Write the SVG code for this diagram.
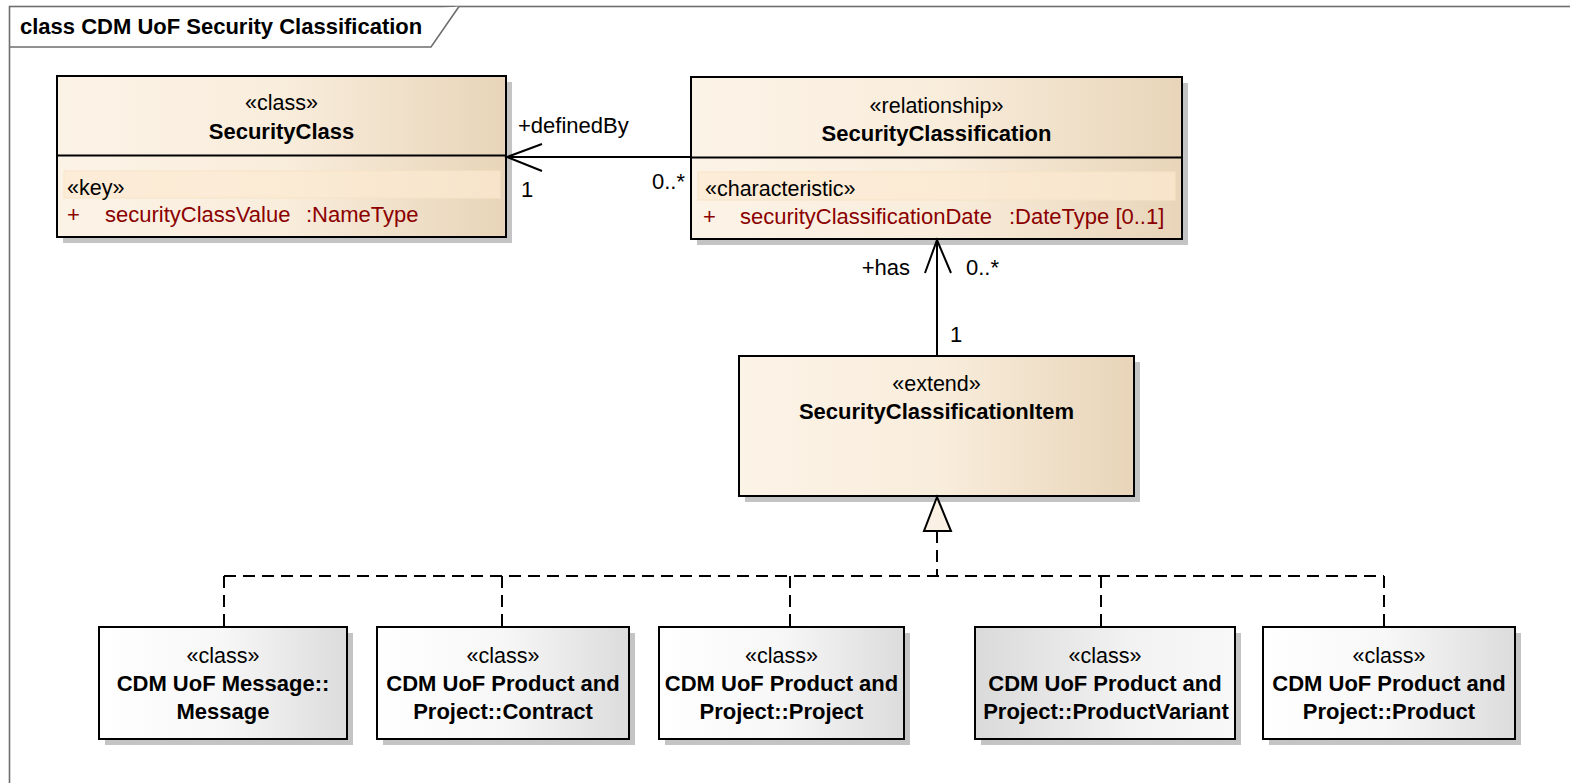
<svg xmlns="http://www.w3.org/2000/svg" width="1570" height="783" viewBox="0 0 1570 783">
<defs>
<linearGradient id="cream" x1="0" y1="0" x2="1" y2="0">
<stop offset="0" stop-color="#fcf3e7"/>
<stop offset="0.5" stop-color="#f9eddc"/>
<stop offset="1" stop-color="#e8d5b9"/>
</linearGradient>
<linearGradient id="grey" x1="0" y1="0" x2="1" y2="0">
<stop offset="0" stop-color="#ffffff"/>
<stop offset="0.5" stop-color="#f7f7f7"/>
<stop offset="1" stop-color="#dcdcdc"/>
</linearGradient>
<linearGradient id="greyrev" x1="0" y1="0" x2="1" y2="0">
<stop offset="0" stop-color="#dadada"/>
<stop offset="0.6" stop-color="#f2f2f2"/>
<stop offset="1" stop-color="#f8f8f8"/>
</linearGradient>
</defs>
<style>
.box{stroke:#000;stroke-width:2}
.cream{fill:url(#cream)}
.grey{fill:url(#grey)}
.greyrev{fill:url(#greyrev)}
.shadow{fill:#c4c4c4}
.row{fill:#fcead2;fill-opacity:0.7;stroke:#f7e3c6;stroke-width:1}
.st{font-family:'Liberation Sans',Arial,sans-serif;font-size:21.5px;text-anchor:middle;fill:#000}
.nm{font-family:'Liberation Sans',Arial,sans-serif;font-size:22px;font-weight:bold;text-anchor:middle;fill:#000}
.rs{font-family:'Liberation Sans',Arial,sans-serif;font-size:21.5px;fill:#000}
.attr{font-family:'Liberation Sans',Arial,sans-serif;font-size:22px;fill:#8b0000}
.lbl{font-family:'Liberation Sans',Arial,sans-serif;font-size:22px;fill:#000}
.title{font-family:'Liberation Sans',Arial,sans-serif;font-size:22px;font-weight:bold;fill:#000}
.conn{stroke:#000;stroke-width:2;fill:none}
.dash{stroke-dasharray:12 7}
</style>
<rect width="1570" height="783" fill="#ffffff"/>
<g id="frame">
<rect x="9.5" y="6.5" width="1580" height="800" fill="none" stroke="#6e6e6e" stroke-width="1.6"/>
<path d="M9.5,47 H431 L459,6.5" fill="#ffffff" stroke="#6e6e6e" stroke-width="1.6"/>
<text class="title" x="20" y="34">class CDM UoF Security Classification</text>
</g>
<g id="SecurityClass">
<rect class="shadow" x="63" y="82" width="449" height="161"/>
<rect class="box cream" x="57" y="76" width="449" height="161"/>
<line x1="57" y1="155.5" x2="506" y2="155.5" stroke="#000" stroke-width="2"/>
<text class="st" x="281.5" y="110">«class»</text>
<text class="nm" x="281.5" y="139">SecurityClass</text>
<rect class="row" x="64" y="171" width="436" height="27"/>
<text class="rs" x="67" y="195">«key»</text>
<text class="attr" x="67" y="222">+</text>
<text class="attr" x="105" y="222">securityClassValue</text>
<text class="attr" x="306" y="222">:NameType</text>
</g>
<g id="SecurityClassification">
<rect class="shadow" x="697" y="83" width="491" height="162"/>
<rect class="box cream" x="691" y="77" width="491" height="162"/>
<line x1="691" y1="157.5" x2="1182" y2="157.5" stroke="#000" stroke-width="2"/>
<text class="st" x="936.5" y="113">«relationship»</text>
<text class="nm" x="936.5" y="141">SecurityClassification</text>
<rect class="row" x="698" y="172" width="477" height="28"/>
<text class="rs" x="705" y="196">«characteristic»</text>
<text class="attr" x="703" y="224">+</text>
<text class="attr" x="740" y="224">securityClassificationDate</text>
<text class="attr" x="1009" y="224">:DateType [0..1]</text>
</g>
<g id="SecurityClassificationItem">
<rect class="shadow" x="745" y="362" width="395" height="140"/>
<rect class="box cream" x="739" y="356" width="395" height="140"/>
<text class="st" x="936.5" y="391">«extend»</text>
<text class="nm" x="936.5" y="419">SecurityClassificationItem</text>
</g>
<g id="Message">
<rect class="shadow" x="105" y="633" width="248" height="112"/>
<rect class="box grey" x="99" y="627" width="248" height="112"/>
<text class="st" x="223" y="663">«class»</text>
<text class="nm" x="223" y="691">CDM UoF Message::</text>
<text class="nm" x="223" y="719">Message</text>
</g>
<g id="Contract">
<rect class="shadow" x="383" y="633" width="252" height="112"/>
<rect class="box grey" x="377" y="627" width="252" height="112"/>
<text class="st" x="503" y="663">«class»</text>
<text class="nm" x="503" y="691">CDM UoF Product and</text>
<text class="nm" x="503" y="719">Project::Contract</text>
</g>
<g id="Project">
<rect class="shadow" x="665" y="633" width="245" height="112"/>
<rect class="box grey" x="659" y="627" width="245" height="112"/>
<text class="st" x="781.5" y="663">«class»</text>
<text class="nm" x="781.5" y="691">CDM UoF Product and</text>
<text class="nm" x="781.5" y="719">Project::Project</text>
</g>
<g id="ProductVariant">
<rect class="shadow" x="981" y="633" width="260" height="112"/>
<rect class="box greyrev" x="975" y="627" width="260" height="112"/>
<text class="st" x="1105" y="663">«class»</text>
<text class="nm" x="1105" y="691">CDM UoF Product and</text>
<text class="nm" x="1106" y="719">Project::ProductVariant</text>
</g>
<g id="Product">
<rect class="shadow" x="1269" y="633" width="252" height="112"/>
<rect class="box grey" x="1263" y="627" width="252" height="112"/>
<text class="st" x="1389" y="663">«class»</text>
<text class="nm" x="1389" y="691">CDM UoF Product and</text>
<text class="nm" x="1389" y="719">Project::Product</text>
</g>
<g id="connectors">
<line class="conn" x1="507" y1="157" x2="691" y2="157"/>
<polyline class="conn" points="542,144 507,157 542,171"/>
<text class="lbl" x="518" y="133">+definedBy</text>
<text class="lbl" x="521" y="197">1</text>
<text class="lbl" x="685" y="189" text-anchor="end">0..*</text>
<line class="conn" x1="937" y1="240" x2="937" y2="356"/>
<polyline class="conn" points="925,273 937,240 951,273"/>
<text class="lbl" x="910" y="275" text-anchor="end">+has</text>
<text class="lbl" x="966" y="275">0..*</text>
<text class="lbl" x="950" y="342">1</text>
<polygon points="937,497 924,531 951,531" fill="#faf0e4" stroke="#000" stroke-width="2"/>
<line class="conn dash" x1="937" y1="531" x2="937" y2="576" stroke-width="2.6"/>
<line class="conn dash" x1="224" y1="576" x2="1384" y2="576" stroke-width="2.2"/>
<line class="conn dash" x1="224" y1="576" x2="224" y2="627"/>
<line class="conn dash" x1="502" y1="576" x2="502" y2="627"/>
<line class="conn dash" x1="790" y1="576" x2="790" y2="627"/>
<line class="conn dash" x1="1101" y1="576" x2="1101" y2="627"/>
<line class="conn dash" x1="1384" y1="576" x2="1384" y2="627"/>
</g>
</svg>
